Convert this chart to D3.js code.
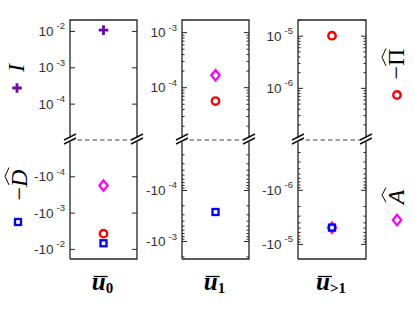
<!DOCTYPE html>
<html><head><meta charset="utf-8">
<script src="https://cdn.jsdelivr.net/npm/d3@7/dist/d3.min.js"></script>
<style>body{margin:0;background:#fff}svg{display:block}</style>
</head><body>
<script>
// ---- data ----
const panelLabels = ["0", "1", ">1"];
const I_vals  = [1.05e-2, null, null];
const D_vals  = [-7.0e-3, -2.7e-4, -5.0e-6];
const Pi_vals = [-3.8e-3, 5.6e-5, 1.0e-5];
const A_vals  = [-1.8e-4, 1.65e-4, -5.0e-6];
const topDomains = [[1e-5, 2e-2], [1.1e-5, 1.66e-3], [1e-7, 2e-5]];
const botDomains = [[1e-5, 1.9e-2], [1.05e-5, 2.25e-3], [1.2e-7, 1.9e-5]];
const topTicks = [[1e-4, 1e-3, 1e-2], [1e-4, 1e-3], [1e-6, 1e-5]];
const botTicks = [[1e-4, 1e-3, 1e-2], [1e-4, 1e-3], [1e-6, 1e-5]];
const minorOn = [false, true, true];

const W = 415, H = 312;
const panelX = [[70, 137], [182, 249], [298, 366]];
const yTop = 20, yBrk = 140, yBot = 259;
const axisCol = "#262626";
const col = {I: "#6B0AAB", D: "#0000FF", Pi: "#FF0000", A: "#FF00FF"};

const svg = d3.select("body").append("svg").attr("width", W).attr("height", H);

function minorTicks(domain) {
  const out = [];
  const e0 = Math.floor(Math.log10(domain[0])), e1 = Math.ceil(Math.log10(domain[1]));
  for (let e = e0; e <= e1; e++) for (let k = 2; k <= 9; k++) {
    const v = k * Math.pow(10, e);
    if (v >= domain[0] && v <= domain[1]) out.push(v);
  }
  return out;
}

function marker(g, type, x, y) {
  if (type === "I") {
    g.append("path").attr("d", `M${x-4.8},${y}H${x+4.8}M${x},${y-4.8}V${y+4.8}`)
      .attr("stroke", col.I).attr("stroke-width", 2.8).attr("fill", "none");
  } else if (type === "D") {
    g.append("rect").attr("x", x-3).attr("y", y-3).attr("width", 6).attr("height", 6)
      .attr("stroke", col.D).attr("stroke-width", 2.3).attr("fill", "none");
  } else if (type === "Pi") {
    g.append("circle").attr("cx", x).attr("cy", y).attr("r", 3.7)
      .attr("stroke", col.Pi).attr("stroke-width", 2.4).attr("fill", "none");
  } else if (type === "A") {
    g.append("path").attr("d", `M${x},${y-5.2}L${x+4.2},${y}L${x},${y+5.2}L${x-4.2},${y}Z`)
      .attr("stroke", col.A).attr("stroke-width", 2.2).attr("fill", "none");
  }
}

function tickLabel(g, x, y, neg, exp) {
  const t = g.append("text").attr("x", x).attr("y", y + 5).attr("text-anchor", "end")
    .attr("font-family", "Liberation Sans, Arial, sans-serif").attr("font-size", 13.5).attr("fill", "#333");
  t.append("tspan").text((neg ? "-" : "") + "10");
  t.append("tspan").attr("dx", 3).attr("dy", -6.5).attr("font-size", 9.5).text("-" + Math.abs(exp));
}

panelLabels.forEach((lab, i) => {
  const [x0, x1] = panelX[i];
  const xc = (x0 + x1) / 2;
  const g = svg.append("g");
  const sTop = d3.scaleLog().domain(topDomains[i]).range([yBrk, yTop]);
  const sBot = d3.scaleLog().domain(botDomains[i]).range([yBrk, yBot]);

  [[sTop, topTicks[i], topDomains[i]], [sBot, botTicks[i], botDomains[i]]].forEach(([s, ticks, dom]) => {
    g.append("g").attr("transform", `translate(${x0},0)`)
      .call(d3.axisLeft(s).tickValues(ticks).tickSize(-5).tickFormat("").tickSizeOuter(0))
      .call(a => a.select(".domain").remove()).selectAll("line").attr("stroke", axisCol);
    g.append("g").attr("transform", `translate(${x1},0)`)
      .call(d3.axisRight(s).tickValues(ticks).tickSize(-5).tickFormat("").tickSizeOuter(0))
      .call(a => a.select(".domain").remove()).selectAll("line").attr("stroke", axisCol);
    if (minorOn[i]) {
      const mt = minorTicks(dom);
      g.append("g").attr("transform", `translate(${x0},0)`)
        .call(d3.axisLeft(s).tickValues(mt).tickSize(-2.5).tickFormat(""))
        .call(a => a.select(".domain").remove()).selectAll("line").attr("stroke", axisCol);
      g.append("g").attr("transform", `translate(${x1},0)`)
        .call(d3.axisRight(s).tickValues(mt).tickSize(-2.5).tickFormat(""))
        .call(a => a.select(".domain").remove()).selectAll("line").attr("stroke", axisCol);
    }
  });
  topTicks[i].forEach(v => tickLabel(g, x0 - 5, sTop(v), false, Math.round(Math.log10(v))));
  botTicks[i].forEach(v => tickLabel(g, x0 - 5, sBot(v), true, Math.round(Math.log10(v))));

  g.append("path").attr("d", `M${x0},${yBot}V${yTop}H${x1}V${yBot}H${x0}`)
    .attr("fill", "none").attr("stroke", axisCol).attr("stroke-width", 1.3);
  g.append("line").attr("x1", x0).attr("x2", x1).attr("y1", yBrk).attr("y2", yBrk)
    .attr("stroke", "#444").attr("stroke-width", 1).attr("stroke-dasharray", "4.5,3");
  [x0, x1].forEach(bx => {
    g.append("path").attr("d", `M${bx-6},${yBrk+1.5}L${bx+6},${yBrk-4.5}L${bx+6},${yBrk-0.5}L${bx-6},${yBrk+5.5}Z`)
      .attr("fill", "#fff").attr("transform", "translate(0,-0.5)");
    g.append("path").attr("d", `M${bx-6},${yBrk+1.5}L${bx+6},${yBrk-4.5}M${bx-6},${yBrk+5.5}L${bx+6},${yBrk-0.5}`)
      .attr("stroke", "#111").attr("stroke-width", 1.4).attr("transform", "translate(0,-1.5)");
  });

  const pos = v => v > 0 ? sTop(v) : sBot(-v);
  [["A", A_vals], ["Pi", Pi_vals], ["D", D_vals], ["I", I_vals]].forEach(([k, arr]) => {
    if (arr[i] != null) marker(g, k, xc, pos(arr[i]));
  });

  const t = g.append("text").attr("class", "xlab").attr("x", xc - 1).attr("y", 290).attr("text-anchor", "middle")
    .attr("font-family", "Liberation Serif, DejaVu Serif, serif").attr("fill", "#000");
  t.append("tspan").attr("font-size", 25).attr("font-weight", "bold").attr("font-style", "italic").text("u");
  t.append("tspan").attr("font-size", 15).attr("font-weight", "bold").attr("dy", 3).text(lab);
});

svg.selectAll("text.xlab").each(function() {
  const tsp = this.querySelector("tspan");
  const s = tsp.getStartPositionOfChar(0).x, e = tsp.getEndPositionOfChar(0).x;
  svg.append("line").attr("x1", s + 2).attr("x2", e + 2).attr("y1", 276.5).attr("y2", 276.5)
    .attr("stroke", "#000").attr("stroke-width", 1.3);
});

function sideLabel(cx, cy, parts, hat) {
  const g = svg.append("g").attr("transform", `translate(${cx},${cy}) rotate(-90)`);
  const t = g.append("text").attr("x", 0).attr("y", 0).attr("text-anchor", "middle")
    .attr("font-family", "Liberation Serif, DejaVu Serif, serif").attr("font-size", 24).attr("fill", "#000");
  parts.forEach(p => t.append("tspan").attr("font-style", p.it ? "italic" : "normal").text(p.s));
  if (hat) {
    const tsp = t.selectAll("tspan").nodes().slice(-1)[0];
    const s = tsp.getStartPositionOfChar(0).x, e = tsp.getEndPositionOfChar(0).x;
    const off = hat.off || 0;
    g.append("path").attr("d", `M${s + off},${-18}L${(s + e) / 2 + off},${-22}L${e + off},${-18}`)
      .attr("fill", "none").attr("stroke", "#000").attr("stroke-width", 1);
  }
}
sideLabel(24, 68, [{s: "I", it: true}], null);
marker(svg, "I", 17, 88);
sideLabel(27, 185, [{s: "\u2212"}, {s: "D", it: true}], {off: 2});
marker(svg, "D", 18, 222);
sideLabel(404, 64, [{s: "\u2212"}, {s: "\u03A0"}], {off: 0});
marker(svg, "Pi", 397, 95);
sideLabel(404, 197, [{s: "A", it: true}], {off: 2});
marker(svg, "A", 397, 220);
</script>
</body></html>
